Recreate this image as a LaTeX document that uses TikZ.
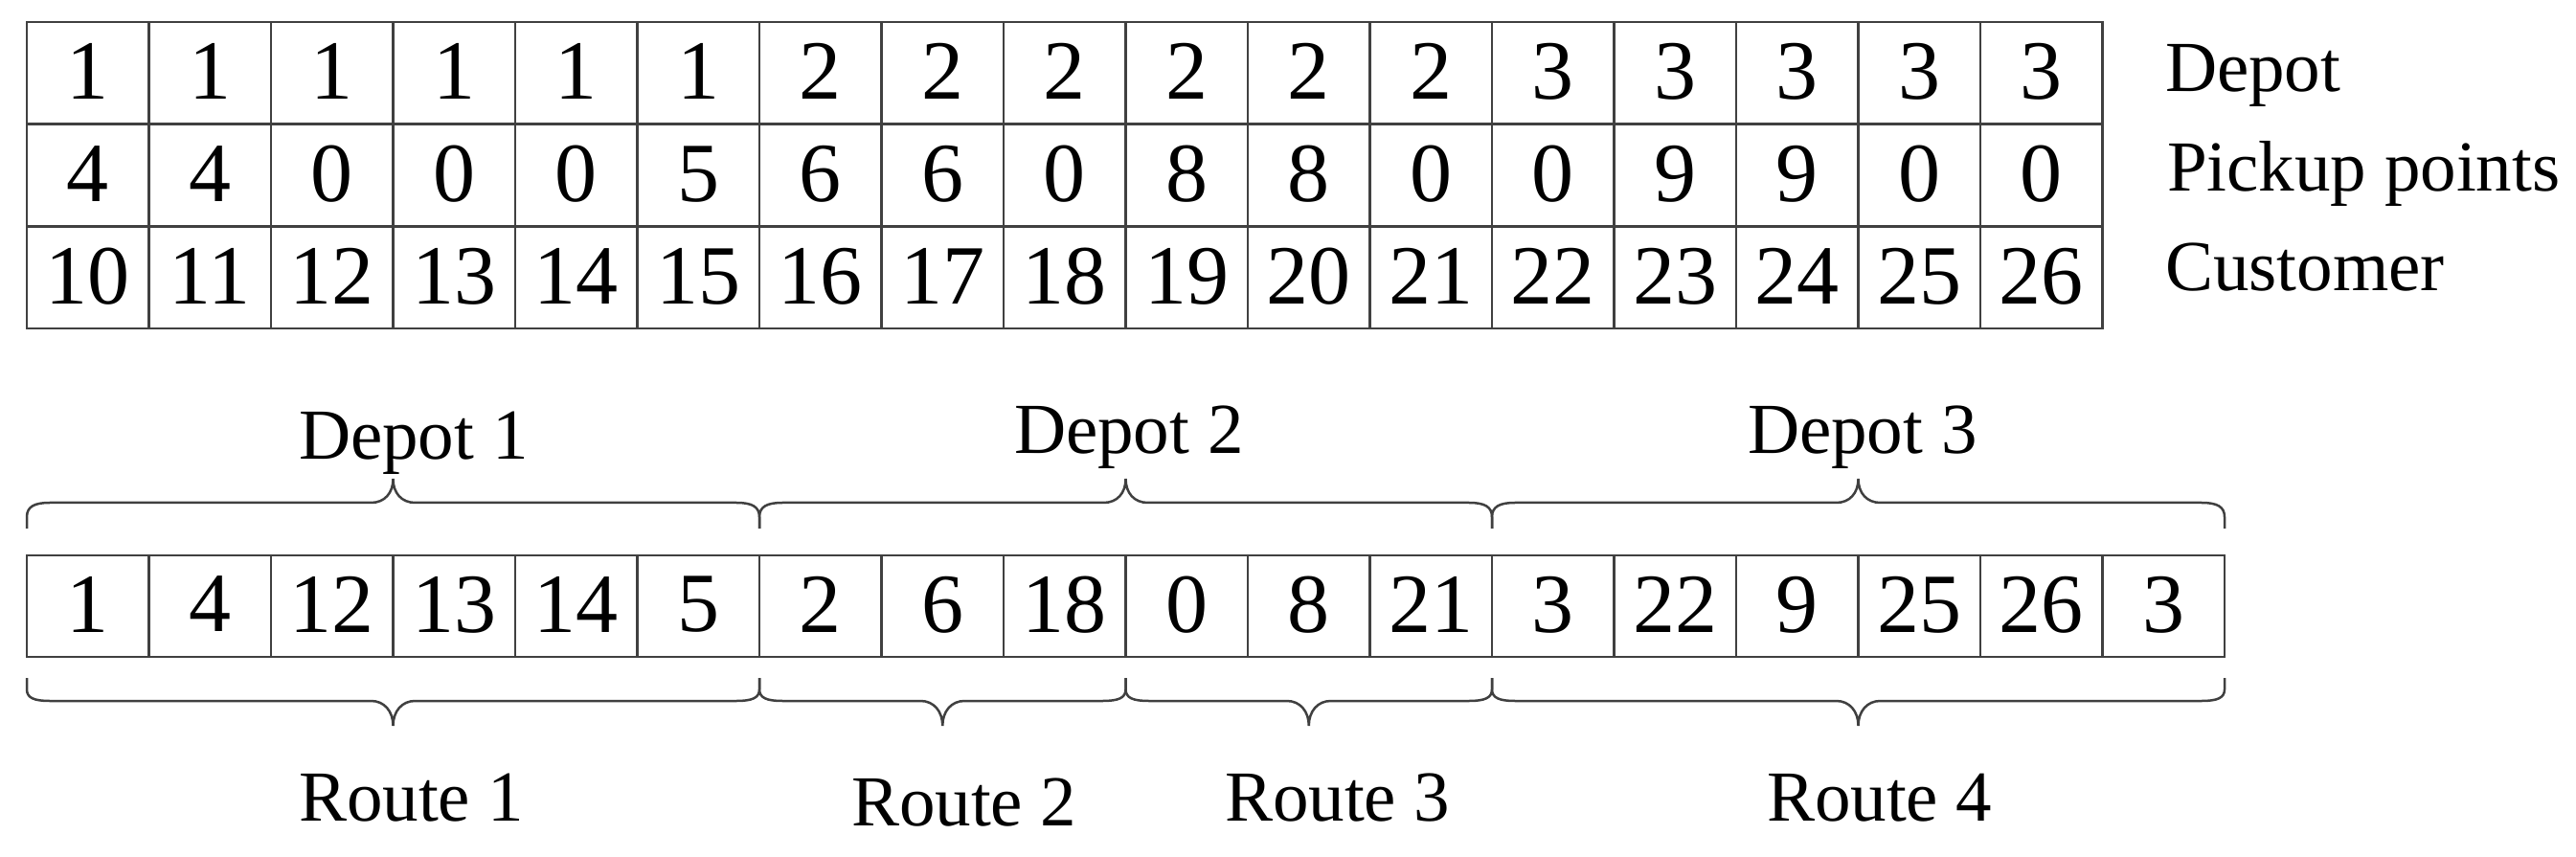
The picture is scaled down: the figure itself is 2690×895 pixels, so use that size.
\documentclass[tikz,border=0pt]{standalone}
\usepackage{fontspec}
\setmainfont{Liberation Serif}
\begin{document}
\begin{tikzpicture}[x=0.1pt,y=-0.1pt,
  cellbox/.style={draw=black!75, line width=0.25pt, minimum width=12.75pt,
    minimum height=10.67pt, inner sep=0pt, outer sep=0pt,
    font=\fontsize{8.8pt}{8.8pt}\selectfont},
  lowbox/.style={cellbox, minimum height=10.6pt},
  lab/.style={inner sep=0pt, outer sep=0pt, anchor=base west,
    font=\fontsize{7.5pt}{7.5pt}\selectfont},
  brc/.style={draw=black!75, line width=0.25pt}]
\useasboundingbox (0,0) rectangle (2690,895);
% upper table
\foreach \v [count=\i] in {1,1,1,1,1,1,2,2,2,2,2,2,3,3,3,3,3}
  \node[cellbox] (a\i) at ({28+127.5*(\i-0.5)},76.3) {\raisebox{0.3pt}{\v}};
\foreach \v [count=\i] in {4,4,0,0,0,5,6,6,0,8,8,0,0,9,9,0,0}
  \node[cellbox] (b\i) at ({28+127.5*(\i-0.5)},183) {\raisebox{0.3pt}{\v}};
\foreach \v [count=\i] in {10,11,12,13,14,15,16,17,18,19,20,21,22,23,24,25,26}
  \node[cellbox] (c\i) at ({28+127.5*(\i-0.5)},289.7) {\raisebox{0.3pt}{\v}};
\node[lab] (ldepot) at (2261,96) {Depot};
\node[lab] (lpick) at (2263,200) {Pickup points};
\node[lab] (lcust) at (2261,304) {Customer};
% lower table
\foreach \v [count=\i] in {1,4,12,13,14,5,2,6,18,0,8,21,3,22,9,25,26,3}
  \node[lowbox] (e\i) at ({28+127.5*(\i-0.5)},633) {\raisebox{0.4pt}{\v}};
% top braces
\foreach \p/\q in {0/6,6/12,12/18}{
  \pgfmathsetmacro\xa{28+127.5*\p}
  \pgfmathsetmacro\xb{28+127.5*\q}
  \pgfmathsetmacro\xm{(\xa+\xb)/2}
  \draw[brc] (\xa,552) -- (\xa,540) .. controls (\xa,529) and ({\xa+8},525) .. ({\xa+24},525)
    -- ({\xm-23},525) .. controls ({\xm-9},525) and (\xm,515) .. (\xm,500)
    .. controls (\xm,515) and ({\xm+9},525) .. ({\xm+23},525)
    -- ({\xb-24},525) .. controls ({\xb-8},525) and (\xb,529) .. (\xb,540) -- (\xb,552);
}
% bottom braces
\foreach \p/\q in {0/6,6/9,9/12,12/18}{
  \pgfmathsetmacro\xa{28+127.5*\p}
  \pgfmathsetmacro\xb{28+127.5*\q}
  \pgfmathsetmacro\xm{(\xa+\xb)/2}
  \draw[brc] (\xa,708) -- (\xa,720) .. controls (\xa,729) and ({\xa+8},732) .. ({\xa+24},732)
    -- ({\xm-23},732) .. controls ({\xm-9},732) and (\xm,743) .. (\xm,758)
    .. controls (\xm,743) and ({\xm+9},732) .. ({\xm+23},732)
    -- ({\xb-24},732) .. controls ({\xb-8},732) and (\xb,729) .. (\xb,720) -- (\xb,708);
}
\node[lab] (dep1) at (312,480) {Depot 1};
\node[lab] (dep2) at (1059,473) {Depot 2};
\node[lab] (dep3) at (1825,473) {Depot 3};
\node[lab] (rt1) at (312,857) {Route 1};
\node[lab] (rt2) at (889,862) {Route 2};
\node[lab] (rt3) at (1279,857) {Route 3};
\node[lab] (rt4) at (1845,857) {Route 4};
\end{tikzpicture}
\end{document}
